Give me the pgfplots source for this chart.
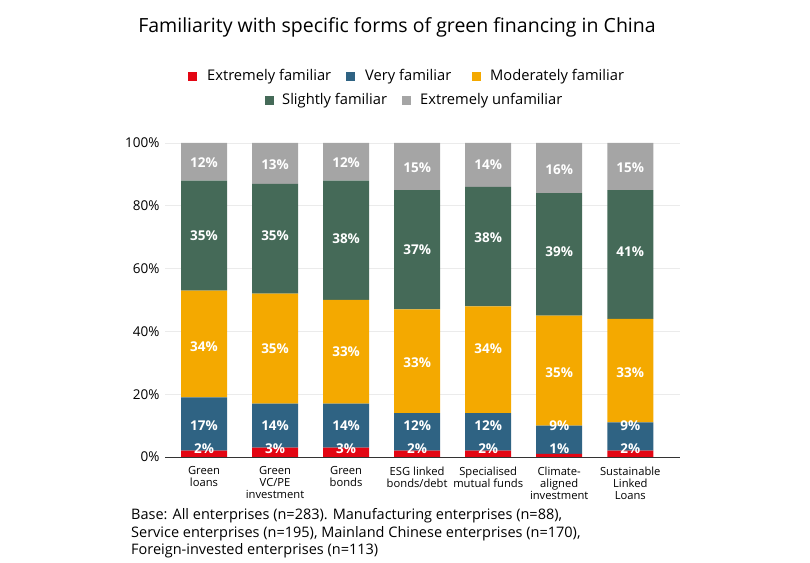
\documentclass[border=0pt]{standalone}
\usepackage{pgfplots}
\pgfplotsset{compat=1.18}
\usepackage{pgfplotstable}
\usepackage{fontspec}
\setmainfont{Open Sans}
\definecolor{cRed}{HTML}{E30613}
\definecolor{cBlue}{HTML}{2F6383}
\definecolor{cYel}{HTML}{F4A900}
\definecolor{cGrn}{HTML}{456A58}
\definecolor{cGry}{HTML}{A5A5A5}
\definecolor{cGrid}{HTML}{EBEBEB}

\pgfplotstableread{
x ef vf mf sf eu
0 2 17 34 35 12
1 3 14 35 35 13
2 3 14 33 38 12
3 2 12 33 38 15
4 2 12 34 38 14
5 1 9 35 39 16
6 2 9 33 41 15
}\data

\pgfplotstableread{
x y lab
0 2.5 2
1 2.5 3
2 2.5 3
3 2.5 2
4 2.5 2
5 2.5 1
6 2.5 2
0 10 17
1 10 14
2 10 14
3 10 12
4 10 12
5 10 9
6 10 9
0 35 34
1 34.5 35
2 33.5 33
3 30 33
4 34.4 34
5 27 35
6 27 33
0 70.4 35
1 70.4 35
2 69.4 38
3 66 37
4 69.7 38
5 65.3 39
6 65.3 41
0 93.6 12
1 93 13
2 93.6 12
3 92 15
4 93 14
5 91.4 16
6 92 15
}\labels

\begin{document}
\begin{tikzpicture}
\path[use as bounding box] (0,0) rectangle (810bp,563bp);

\node[font=\fontsize{19.5bp}{22bp}\selectfont] at (397bp,536bp) {Familiarity with specific forms of green financing in China};

% legend
\begin{scope}[font=\fontsize{14.7bp}{17bp}\selectfont]
\fill[cRed] (188bp,482bp) rectangle ++(9bp,9bp);
\node[anchor=west,inner sep=0pt] at (207bp,486.5bp) {Extremely familiar};
\fill[cBlue] (346bp,482bp) rectangle ++(9bp,9bp);
\node[anchor=west,inner sep=0pt] at (365bp,486.5bp) {Very familiar};
\fill[cYel] (472bp,482bp) rectangle ++(9bp,9bp);
\node[anchor=west,inner sep=0pt] at (490bp,486.5bp) {Moderately familiar};
\fill[cGrn] (265bp,457.5bp) rectangle ++(9bp,9bp);
\node[anchor=west,inner sep=0pt] at (282bp,462bp) {Slightly familiar};
\fill[cGry] (402bp,457.5bp) rectangle ++(9bp,9bp);
\node[anchor=west,inner sep=0pt] at (420bp,462bp) {Extremely unfamiliar};
\end{scope}

\begin{axis}[
  at={(165bp,106bp)}, anchor=south west,
  scale only axis, width=515bp, height=314bp,
  ybar stacked, bar width=46bp,
  xmin=-0.549, xmax=6.70, ymin=0, ymax=100,
  axis x line*=bottom, axis y line*=left,
  y axis line style={draw=none},
  x axis line style={draw=black!80, line width=0.8pt, -},
  major tick length=0pt,
  ymajorgrids, grid style={draw=cGrid, line width=0.8pt},
  ytick={0,20,40,60,80,100},
  yticklabel={\pgfmathprintnumber{\tick}\%},
  /pgf/number format/assume math mode=true,
  yticklabel style={font=\fontsize{13.5bp}{16bp}\selectfont, xshift=-2bp},
  xtick={0,1,2,3,4,5,6},
  xticklabels={{Green\\loans},{Green\\VC/PE\\investment},{Green\\bonds},{ESG linked\\bonds/debt},{Specialised\\mutual funds},{Climate-\\aligned\\investment},{Sustainable\\Linked\\Loans}},
  xticklabel style={font=\fontsize{11.2bp}{12bp}\selectfont, align=center, anchor=north, yshift=-6bp},
]
\addplot[fill=cRed, draw=none] table[x=x, y=ef] {\data};
\addplot[fill=cBlue, draw=none] table[x=x, y=vf] {\data};
\addplot[fill=cYel, draw=none] table[x=x, y=mf] {\data};
\addplot[fill=cGrn, draw=none] table[x=x, y=sf] {\data};
\addplot[fill=cGry, draw=none] table[x=x, y=eu] {\data};
\end{axis}

\begin{axis}[
  at={(165bp,106bp)}, anchor=south west,
  scale only axis, width=515bp, height=314bp,
  xmin=-0.549, xmax=6.70, ymin=0, ymax=100,
  hide axis,
]
\addplot[only marks, mark=none, point meta=explicit symbolic,
  nodes near coords={\pgfplotspointmeta\%},
  every node near coord/.style={anchor=center, text=white, font=\bfseries\fontsize{13.5bp}{16bp}\selectfont}]
  table[x=x, y=y, meta=lab] {\labels};
\end{axis}

\begin{scope}[every node/.style={anchor=base west, inner sep=0pt, font=\fontsize{14.5bp}{17bp}\selectfont}]
\node at (131bp,43bp) {Base: All enterprises (n=283). Manufacturing enterprises (n=88),};
\node at (131bp,26bp) {Service enterprises (n=195), Mainland Chinese enterprises (n=170),};
\node at (131bp,9bp) {Foreign-invested enterprises (n=113)};
\end{scope}
\end{tikzpicture}
\end{document}
